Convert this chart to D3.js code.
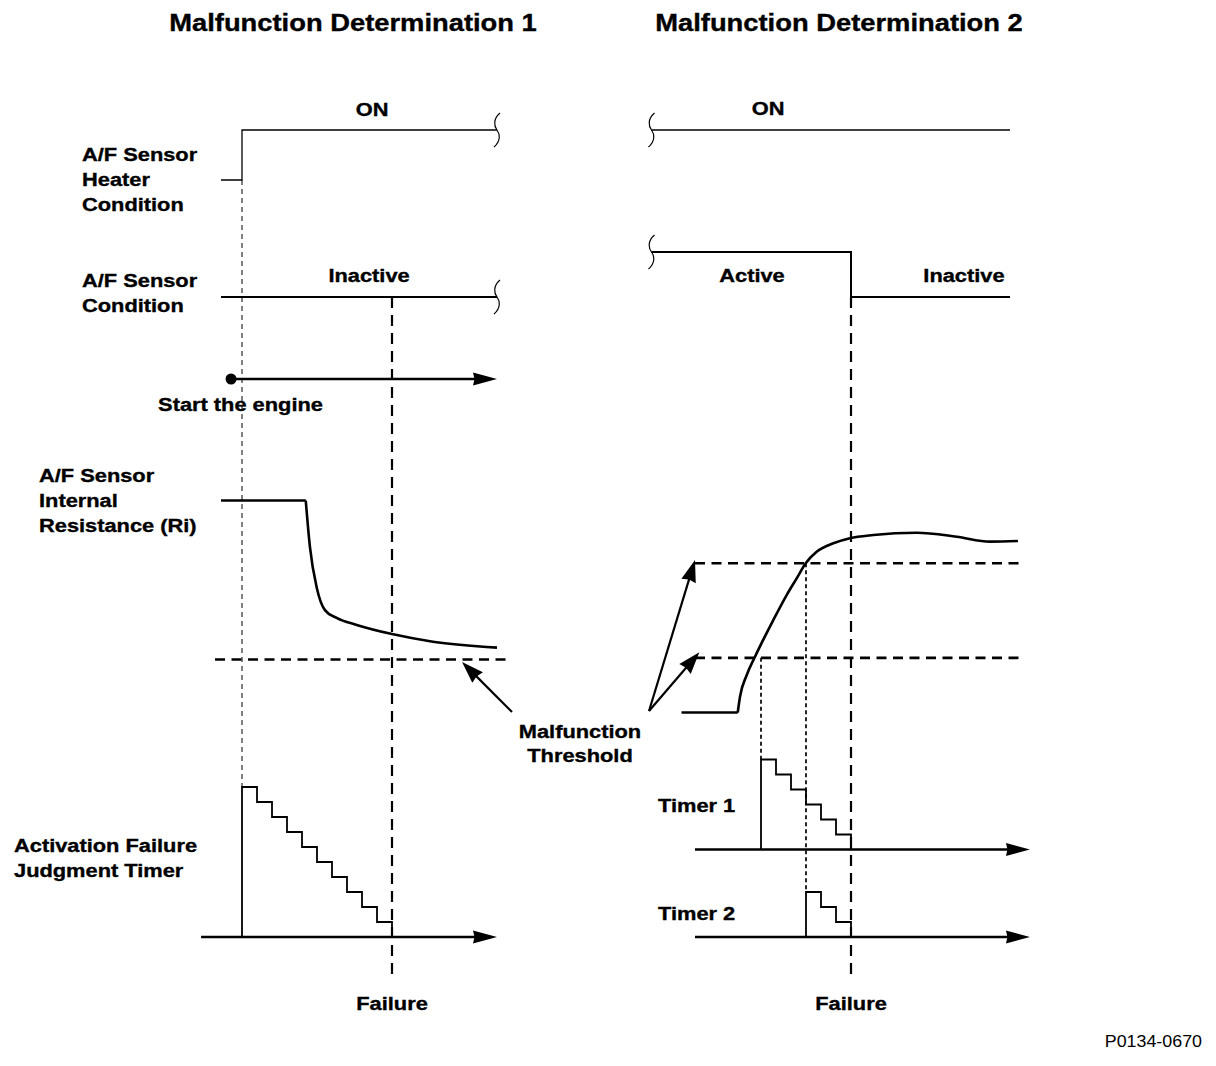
<!DOCTYPE html>
<html><head><meta charset="utf-8">
<script src="https://cdn.jsdelivr.net/npm/d3@7"></script>
<style>
body{margin:0;background:#fff}
svg{display:block}
text{font-family:"Liberation Sans",Arial,sans-serif;font-weight:bold;fill:#000}
</style>
</head><body>
<svg id="c" width="1216" height="1066"></svg>
<script>
// ---------------- data ----------------
const titles = ["Malfunction Determination 1", "Malfunction Determination 2"];
const heaterStates = ["ON", "OFF"];
const sensorStates = ["Active", "Inactive"];
const heaterLeft = [{t:-1.4,s:"OFF"},{t:0,s:"ON"},{t:17,s:"ON"}];
const heaterRight = [{t:-7.3,s:"ON"},{t:16.6,s:"ON"}];
const sensorLeft = [{t:-1.4,s:"Inactive"},{t:17,s:"Inactive"}];
const sensorRight = [{t:-7.3,s:"Active"},{t:6,s:"Inactive"},{t:16.6,s:"Inactive"}];
const riLeftFlat = [[-1.4,100],[4.25,100]];
const riLeftCurve = [[4.25,100],[4.53,78],[4.98,59],[5.53,48.3],[6.31,44.6],[7.65,41.3],[10,37],[12.73,33.4],[17,30.6]];
const riRightFlat = [[-5.3,0],[-1.55,0]];
const riRightCurve = [[-1.55,0],[-1.4,7.4],[-0.95,17.7],[-0.4,26.3],[0.82,43.6],[1.71,55.4],[2.38,63.3],[2.98,70.4],[3.71,75.8],[4.82,79.8],[5.93,82.2],[7.49,83.7],[10.38,84.8],[13.05,82.9],[15.27,80.6],[17.13,80.9]];
const thresholdLeft = 25;
const thresholdsRight = [25.8, 70.4];
const timerLeft = [10,9,8,7,6,5,4,3,2,1];
const timer1 = [6,5,4,3,2,1];
const timer2 = [3,2,1];
const timer1Start = 0, timer2Start = 3;
const engineStart = -0.73;
const failureLeft = 10, failureRight = 6;
const leftSpan = [-1.4, 17], rightSpan = [-7.3, 16.6];

// ---------------- scales ----------------
const xL = d3.scaleLinear().domain([0,10]).range([242,392]);
const xR = d3.scaleLinear().domain([0,6]).range([761,851]);
const yRi = d3.scaleLinear().domain([0,100]).range([712.5,500.5]);
const yHeater = d3.scalePoint().domain(heaterStates).range([130,180]);
const ySensor = d3.scalePoint().domain(sensorStates).range([252,297]);
const timerScale = base => d3.scaleLinear().domain([0,1]).range([base, base-15]);
const yTL = timerScale(937), yT1 = timerScale(849.5), yT2 = timerScale(937);

const svg = d3.select("#c");
svg.append("rect").attr("width",1216).attr("height",1066).attr("fill","#fff");
const g = svg.append("g");

function path(d, w, dash){
  const p = g.append("path").attr("d", d).attr("fill","none").attr("stroke","#000")
    .attr("stroke-width", w).attr("stroke-linejoin","miter");
  if (dash) p.attr("stroke-dasharray", dash);
  return p;
}
function hline(x1,x2,y,w,dash){ return path(`M${x1},${y}H${x2}`, w, dash); }
function vline(x,y1,y2,w,dash){ return path(`M${x},${y1}V${y2}`, w, dash); }
function brk(x,y){
  path(`M${x+3},${y-17} C${x-4},${y-11} ${x-3},${y-4} ${x},${y} C${x+3},${y+4} ${x+4},${y+11} ${x-3},${y+17}`, 1.2);
}
function head(tx,ty,fx,fy,len,hw,notch){
  const a = Math.atan2(ty-fy, tx-fx), c=Math.cos(a), s=Math.sin(a);
  const P = (u,v)=>[tx - u*c + v*s, ty - u*s - v*c];
  const pts=[[tx,ty],P(len,hw),P(len-notch,0),P(len,-hw)];
  g.append("path").attr("d","M"+pts.map(p=>p.join(",")).join("L")+"Z").attr("fill","#000");
}
function arrow(fx,fy,tx,ty,w,len,hw){
  const a = Math.atan2(ty-fy, tx-fx);
  path(`M${fx},${fy}L${tx-Math.cos(a)*len*0.7},${ty-Math.sin(a)*len*0.7}`, w);
  head(tx,ty,fx,fy,len,hw,1.5);
}
const SX = 1.18;
function txt(x,y,s,size,anchor,weight,sx){
  return g.append("text")
    .attr("transform",`translate(${x},${y}) scale(${sx||SX},1)`)
    .attr("font-size",size)
    .attr("text-anchor",anchor||"start")
    .style("font-weight",weight||"bold")
    .attr("stroke","#000").attr("stroke-width", weight==="normal"?0:0.35)
    .text(s);
}
function lines(x,y0,arr,size){ arr.forEach((s,i)=>txt(x,y0+i*25,s,size)); }

const step = d3.line().curve(d3.curveStepAfter);
const smooth = d3.line().curve(d3.curveMonotoneX);
const straight = d3.line();

// ---------------- titles ----------------
txt(353,31,titles[0],24,"middle",null,1.14);
txt(839,31,titles[1],24,"middle",null,1.14);
const LS = 18.5;

// ---------------- left panel ----------------
lines(82,161,["A/F Sensor","Heater","Condition"],LS);
lines(82,287,["A/F Sensor","Condition"],LS);
lines(39,481.5,["A/F Sensor","Internal","Resistance (Ri)"],LS);
lines(14,852,["Activation Failure","Judgment Timer"],LS);

// dashed guide lines
vline(xL(0), yHeater("OFF"), yTL(timerLeft[0]), 1, "5,4");
vline(xL(failureLeft), ySensor("Inactive"), 975, 2.2, "11,7");

// heater
path(step(heaterLeft.map(d=>[xL(d.t), yHeater(d.s)])), 1.3);
brk(xL(leftSpan[1]), yHeater("ON"));
txt(xL(8.67),116,"ON",LS,"middle");
// sensor
path(step(sensorLeft.map(d=>[xL(d.t), ySensor(d.s)])), 2);
brk(xL(leftSpan[1]), ySensor("Inactive"));
txt(xL(8.47),282,"Inactive",LS,"middle");
// engine start
g.append("circle").attr("cx",xL(engineStart)).attr("cy",379).attr("r",5.5).attr("fill","#000");
arrow(xL(engineStart),379,xL(17),379,2.6,24,6.5);
txt(xL(-0.1),411,"Start the engine",LS,"middle");
// Ri
path(straight(riLeftFlat.map(d=>[xL(d[0]),yRi(d[1])])), 2.6);
path(smooth(riLeftCurve.map(d=>[xL(d[0]),yRi(d[1])])), 2.6);
hline(xL(-1.8), xL(17.73), yRi(thresholdLeft), 2.7, "10,6.5");
// timer
const tl = [[0,0]].concat(timerLeft.map((v,i)=>[i,v])).concat([[failureLeft,0]]);
path(step(tl.map(d=>[xL(d[0]), yTL(d[1])])), 1.8);
arrow(xL(-2.73), yTL(0), xL(17), yTL(0), 2.6, 24, 6.5);
txt(xL(failureLeft),1010,"Failure",LS,"middle");

// ---------------- right panel ----------------
vline(xR(failureRight), ySensor("Inactive"), 975, 2.2, "11,7");
vline(xR(timer1Start), yRi(thresholdsRight[0]), yT1(timer1[0]), 1.7, "4,3");
vline(xR(timer2Start), yRi(thresholdsRight[1]), yT2(timer2[0]), 1.7, "4,3");

path(step(heaterRight.map(d=>[xR(d.t), yHeater(d.s)])), 1.3);
brk(xR(rightSpan[0]), yHeater("ON"));
txt(xR(0.47),115,"ON",LS,"middle");
path(step(sensorRight.map(d=>[xR(d.t), ySensor(d.s)])), 2);
brk(xR(rightSpan[0]), ySensor("Active"));
txt(xR(-0.6),282,"Active",LS,"middle");
txt(xR(13.53),282,"Inactive",LS,"middle");

path(straight(riRightFlat.map(d=>[xR(d[0]),yRi(d[1])])), 2.6);
path(smooth(riRightCurve.map(d=>[xR(d[0]),yRi(d[1])])), 2.6);
thresholdsRight.forEach(v=>hline(xR(-4.4), xR(17.27), yRi(v), 2.7, "10,6.5"));

const t1 = [[timer1Start,0]].concat(timer1.map((v,i)=>[timer1Start+i,v])).concat([[failureRight,0]]);
path(step(t1.map(d=>[xR(d[0]), yT1(d[1])])), 1.8);
arrow(xR(-4.4), yT1(0), xR(17.93), yT1(0), 2.6, 24, 6.5);
txt(658,812,"Timer 1",LS);
const t2 = [[timer2Start,0]].concat(timer2.map((v,i)=>[timer2Start+i,v])).concat([[failureRight,0]]);
path(step(t2.map(d=>[xR(d[0]), yT2(d[1])])), 1.8);
arrow(xR(-4.4), yT2(0), xR(17.93), yT2(0), 2.6, 24, 6.5);
txt(658,920,"Timer 2",LS);
txt(xR(failureRight),1010,"Failure",LS,"middle");

// ---------------- threshold annotation ----------------
txt(580,738,"Malfunction",LS,"middle");
txt(580,762,"Threshold",LS,"middle");
arrow(512,712, xL(14.67), yRi(thresholdLeft)+2.5, 2.2, 22, 7.5);
arrow(649,711, xR(-4.4), yRi(thresholdsRight[1])-3.3, 2.2, 22, 7.5);
arrow(649,711, xR(-4.11), yRi(thresholdsRight[0])-5.5, 2.2, 22, 7.5);

// code
txt(1202,1047,"P0134-0670",17,"end","normal",1.05);
</script>
</body></html>
